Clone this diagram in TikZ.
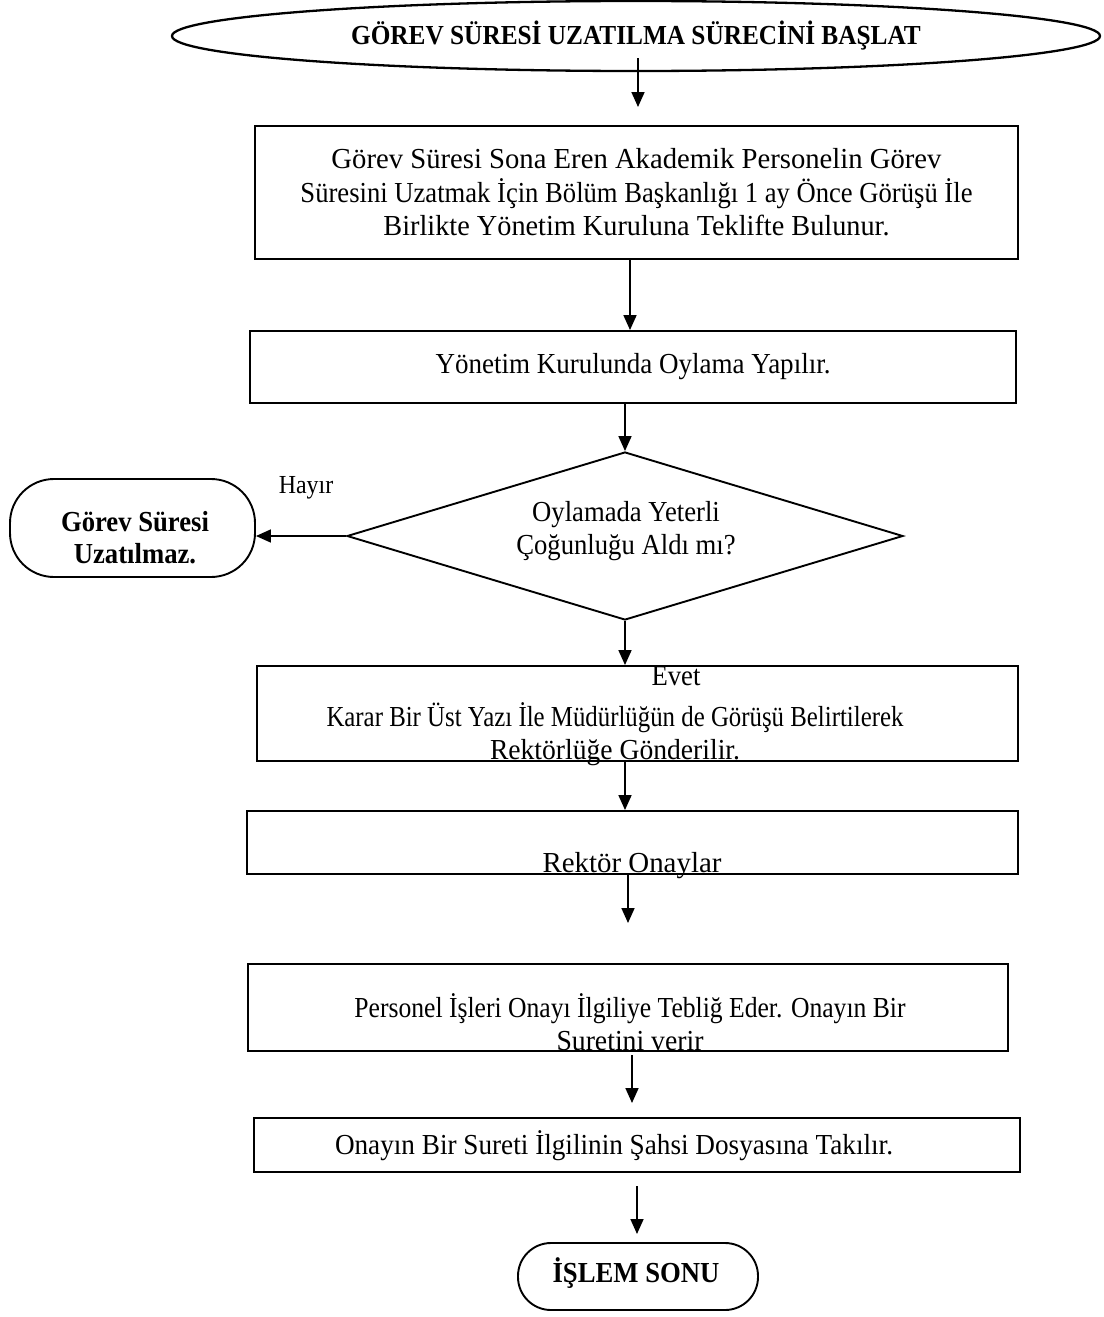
\documentclass[tikz,border=0pt]{standalone}
\usepackage{fontspec}
\usepackage{graphicx}
\setmainfont{Liberation Serif}[FakeStretch=0.92]
\usetikzlibrary{shapes.geometric,arrows.meta,calc}
% set one line of text to a given width, keeping its height
\newcommand{\fitw}[2]{\resizebox{#1}{\height}{#2}}
\begin{document}
\begin{tikzpicture}[x=1pt,y=-1pt,
  every node/.style={inner sep=0pt, font=\fontsize{29}{33.5}\selectfont},
  box/.style={draw, line width=1.9pt},
  term/.style={draw, line width=1.9pt},
  lbl/.style={align=center},
  flow/.style={line width=1.7pt, -{Triangle[length=15pt,width=13pt]}},
]
\useasboundingbox (0,0) rectangle (1103,1317);

% start terminal
\node[term, ellipse, line width=2.3pt, minimum width=928pt, minimum height=70pt,
      font=\fontsize{27.5}{32}\selectfont\bfseries] (start) at (636,36)
  {GÖREV SÜRESİ UZATILMA SÜRECİNİ BAŞLAT};

% process steps
\node[box, minimum width=763pt, minimum height=133pt, lbl] (teklif) at (636.5,192.5)
  {\fitw{610pt}{Görev Süresi Sona Eren Akademik Personelin Görev}\\
   \fitw{672pt}{Süresini Uzatmak İçin Bölüm Başkanlığı 1 ay Önce Görüşü İle}\\
   \fitw{506pt}{Birlikte Yönetim Kuruluna Teklifte Bulunur.}};

\node[box, minimum width=766pt, minimum height=72pt] (oy) at (633,367)
  {\fitw{395pt}{Yönetim Kurulunda Oylama Yapılır.}};

% decision
\node[box, diamond, aspect=3.3, minimum width=556pt, minimum height=168pt]
  (karar) at (625,536) {};
\node[lbl] (karartxt) at (626,531) {Oylamada Yeterli\\Çoğunluğu Aldı mı?};

% negative outcome
\node[term, rounded corners=44pt, minimum width=245pt, minimum height=98pt] (red) at (132.5,528) {};
\node[lbl, font=\fontsize{29}{32}\selectfont\bfseries] (redtxt) at (135,538) {Görev Süresi\\Uzatılmaz.};
\node[font=\fontsize{26}{30}\selectfont] (hayir) at (306,488) {Hayır};

% positive branch
\node[box, minimum width=761pt, minimum height=95pt] (ust) at (637.5,713.5) {};
\node[lbl] (usttxt) at (615,734)
  {\fitw{577pt}{Karar Bir Üst Yazı İle Müdürlüğün de Görüşü Belirtilerek}\\
   \fitw{250pt}{Rektörlüğe Gönderilir.}};
\node (evet) at (676,676) {Evet};

\node[box, minimum width=771pt, minimum height=63pt] (rektor) at (632.5,842.5) {};
\node[anchor=base] (rektortxt) at (632,872) {\fitw{179pt}{Rektör Onaylar}};

\node[box, minimum width=760pt, minimum height=87pt] (teblig) at (628,1007.5) {};
\node[lbl] (tebligtxt) at (630,1022)
  {\fitw{551pt}{Personel İşleri Onayı İlgiliye Tebliğ Eder. Onayın Bir}\\
   \fitw{147pt}{Suretini verir}};

\node[box, minimum width=766pt, minimum height=54pt] (dosya) at (637,1145) {};
\node (dosyatxt) at (614,1146) {\fitw{558pt}{Onayın Bir Sureti İlgilinin Şahsi Dosyasına Takılır.}};

% end terminal
\node[term, rounded corners=33pt, minimum width=240pt, minimum height=67pt] (son) at (638,1276.5) {};
\node[font=\fontsize{29}{33}\selectfont\bfseries] (sontxt) at (636,1273) {İŞLEM SONU};

% free arrow ends
\coordinate (a1s) at (638,58);
\coordinate (a1e) at (638,107);
\coordinate (a7e) at (628,923);
\coordinate (a8s) at (632,1055);
\coordinate (a8e) at (632,1103);
\coordinate (a9s) at (637,1186);
\coordinate (a9e) at (637,1234);

% connectors
\draw[flow] (a1s) -- (a1e);
\draw[flow] (teklif.south -| 630,0) -- (oy.north -| 630,0);
\draw[flow] (oy.south -| karar.north) -- (karar.north);
\draw[flow] (karar.west) -- (karar.west -| red.east);
\draw[flow] (karar.south) -- (ust.north -| karar.south);
\draw[flow] (ust.south -| karar.south) -- (rektor.north -| karar.south);
\draw[flow] (rektor.south -| a7e) -- (a7e);
\draw[flow] (a8s) -- (a8e);
\draw[flow] (a9s) -- (a9e);
\end{tikzpicture}
\end{document}
